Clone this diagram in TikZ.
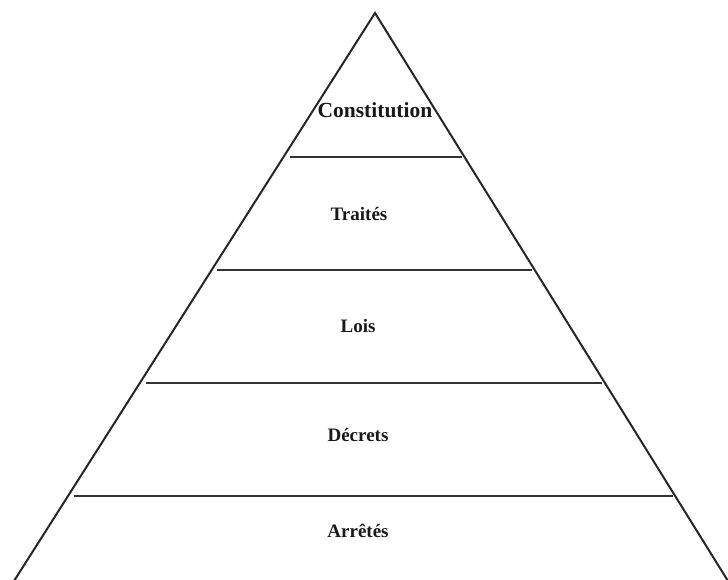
\documentclass[tikz,border=0pt]{standalone}
\usepackage{fontspec}
\setmainfont{Liberation Serif}
\begin{document}
\begin{tikzpicture}[x=1pt,y=-1pt,
  edge/.style={line width=2pt,draw=black!85},
  tier/.style={line width=2.6pt,draw=black!80},
  lab/.style={font=\bfseries\fontsize{19}{21}\selectfont,text=black!90,inner sep=0pt}]
\useasboundingbox (0,0) rectangle (728,580);
\coordinate (apex) at (375,13);
\coordinate (bl) at (14,581);
\coordinate (br) at (728,581);
\draw[edge] (bl) -- (apex) -- (br);
\coordinate (l1) at (290,157); \coordinate (r1) at (462,157);
\coordinate (l2) at (217,270); \coordinate (r2) at (532,270);
\coordinate (l3) at (146,383); \coordinate (r3) at (602,383);
\coordinate (l4) at (74,496);  \coordinate (r4) at (673,496);
\draw[tier] (l1) -- (r1);
\draw[tier] (l2) -- (r2);
\draw[tier] (l3) -- (r3);
\draw[tier] (l4) -- (r4);
\node[lab,font=\bfseries\fontsize{21.5}{23}\selectfont] (c) at (375,110) {Constitution};
\node[lab] (t) at (359,214) {Traités};
\node[lab] (lo) at (358,326) {Lois};
\node[lab] (d) at (358,435) {Décrets};
\node[lab] (a) at (358,531) {Arrêtés};
\end{tikzpicture}
\end{document}
